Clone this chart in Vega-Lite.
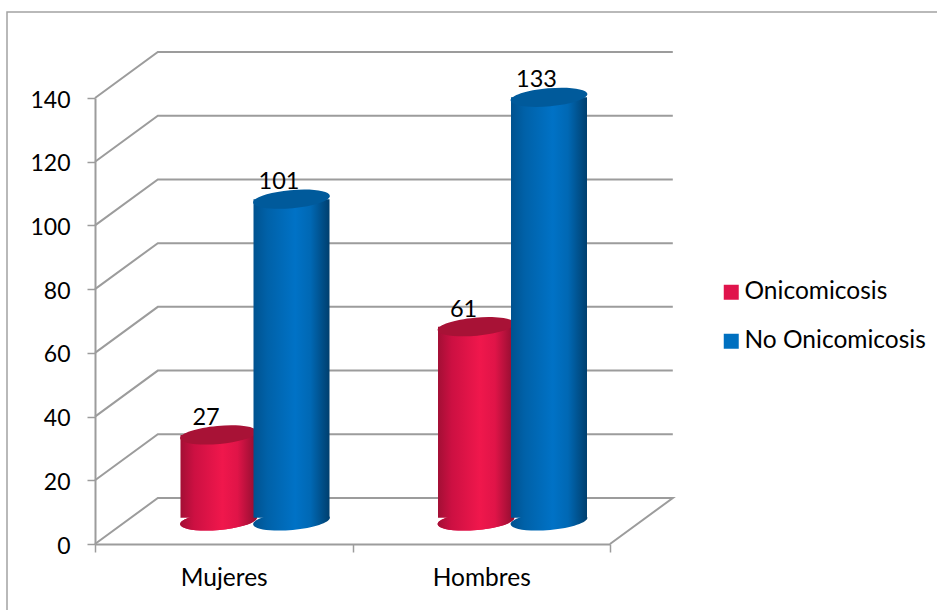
{
  "$schema": "https://vega.github.io/schema/vega-lite/v6.json",
  "width": 940,
  "height": 610,
  "autosize": "none",
  "padding": {"left": 7, "top": 12, "right": 0, "bottom": 0},
  "background": "#ffffff",
  "view": {"stroke": "#a3a3a3", "strokeWidth": 1.5, "fill": "#ffffff"},
  "config": {"font": "Lato", "text": {"font": "Lato"}},
  "datasets": {
    "casos": [
      {"sexo": "Mujeres", "serie": "Onicomicosis", "n": 27},
      {"sexo": "Hombres", "serie": "Onicomicosis", "n": 61},
      {"sexo": "Mujeres", "serie": "No Onicomicosis", "n": 101},
      {"sexo": "Hombres", "serie": "No Onicomicosis", "n": 133}
    ],
    "paredes": [
      {"linea": "piso", "orden": 1, "fondo": 0, "nivel": 0},
      {"linea": "piso", "orden": 2, "fondo": 0.122, "nivel": 14.44},
      {"linea": "piso", "orden": 3, "fondo": 1.122, "nivel": 14.44},
      {"linea": "piso", "orden": 4, "fondo": 1, "nivel": 0},
      {"linea": "g20", "orden": 1, "fondo": 0, "nivel": 20},
      {"linea": "g20", "orden": 2, "fondo": 0.122, "nivel": 34.44},
      {"linea": "g20", "orden": 3, "fondo": 1.122, "nivel": 34.44},
      {"linea": "g40", "orden": 1, "fondo": 0, "nivel": 40},
      {"linea": "g40", "orden": 2, "fondo": 0.122, "nivel": 54.44},
      {"linea": "g40", "orden": 3, "fondo": 1.122, "nivel": 54.44},
      {"linea": "g60", "orden": 1, "fondo": 0, "nivel": 60},
      {"linea": "g60", "orden": 2, "fondo": 0.122, "nivel": 74.44},
      {"linea": "g60", "orden": 3, "fondo": 1.122, "nivel": 74.44},
      {"linea": "g80", "orden": 1, "fondo": 0, "nivel": 80},
      {"linea": "g80", "orden": 2, "fondo": 0.122, "nivel": 94.44},
      {"linea": "g80", "orden": 3, "fondo": 1.122, "nivel": 94.44},
      {"linea": "g100", "orden": 1, "fondo": 0, "nivel": 100},
      {"linea": "g100", "orden": 2, "fondo": 0.122, "nivel": 114.44},
      {"linea": "g100", "orden": 3, "fondo": 1.122, "nivel": 114.44},
      {"linea": "g120", "orden": 1, "fondo": 0, "nivel": 120},
      {"linea": "g120", "orden": 2, "fondo": 0.122, "nivel": 134.44},
      {"linea": "g120", "orden": 3, "fondo": 1.122, "nivel": 134.44},
      {"linea": "g140", "orden": 1, "fondo": 0, "nivel": 140},
      {"linea": "g140", "orden": 2, "fondo": 0.122, "nivel": 154.44},
      {"linea": "g140", "orden": 3, "fondo": 1.122, "nivel": 154.44}
    ]
  },
  "resolve": {"scale": {"x": "independent", "y": "independent"}, "axis": {"x": "independent", "y": "independent"}},
  "layer": [
    {
      "data": {"name": "paredes"},
      "mark": {"type": "line", "color": "#9c9c9c", "strokeWidth": 2, "interpolate": "linear"},
      "encoding": {
        "x": {"field": "fondo", "type": "quantitative", "axis": null, "scale": {"domain": [0, 1.122], "range": [88, 665.8], "nice": false, "zero": false}},
        "y": {
          "field": "nivel", "type": "quantitative",
          "scale": {"domain": [0, 140], "range": [532, 86], "nice": false},
          "axis": {
            "title": null, "orient": "left", "offset": -88, "values": [0, 20, 40, 60, 80, 100, 120, 140],
            "grid": false, "domainColor": "#9c9c9c", "domainWidth": 2, "tickColor": "#9c9c9c", "tickWidth": 1.5, "tickSize": 8,
            "labelFont": "Lato", "labelFontSize": 23, "labelColor": "#000000", "labelPadding": 17, "labelBaseline": "middle", "labelOffset": 2
          }
        },
        "detail": {"field": "linea"},
        "order": {"field": "orden"}
      }
    },
    {
      "data": {"name": "casos"},
      "encoding": {
        "x": {
          "field": "sexo", "type": "nominal",
          "scale": {"domain": ["Mujeres", "Hombres"], "range": [88, 603], "paddingInner": 0, "paddingOuter": 0},
          "axis": {
            "title": null, "orient": "bottom", "offset": -78, "tickBand": "extent", "labelAngle": 0, "grid": false,
            "domainColor": "#9c9c9c", "domainWidth": 2, "tickColor": "#9c9c9c", "tickWidth": 1.5, "tickSize": 8,
            "labelFont": "Lato", "labelFontSize": 24.5, "labelColor": "#000000", "labelPadding": 14
          }
        },
        "xOffset": {"field": "serie", "type": "nominal", "scale": {"domain": ["Onicomicosis", "No Onicomicosis"], "range": [87, 233]}},
        "y": {"field": "n", "type": "quantitative", "axis": null, "scale": {"domain": [0, 140], "range": [509, 63], "nice": false}}
      },
      "layer": [
        {
          "transform": [{"filter": "datum.serie === 'Onicomicosis'"}],
          "layer": [
            {
              "mark": {"type": "point", "filled": true, "opacity": 1, "size": 5929, "shape": "M-0.996,0.09A1,0.235,-5,1,0,0.996,-0.09A1,0.235,-5,1,0,-0.996,0.09Z"},
              "encoding": {
                "y": {"datum": 0, "type": "quantitative"},
                "color": {
                  "field": "serie", "type": "nominal",
                  "scale": {"domain": ["Onicomicosis", "No Onicomicosis"], "range": ["#e0144c", "#0070c0"]},
                  "legend": {
                    "title": null, "orient": "none", "legendX": 712, "legendY": 268, "symbolType": "square", "symbolSize": 225,
                    "labelFont": "Lato", "labelFontSize": 24.5, "labelColor": "#000000", "labelOffset": 1, "labelLimit": 300, "rowPadding": 24, "symbolStrokeWidth": 0
                  }
                }
              }
            },
            {
              "mark": {"type": "point", "filled": true, "opacity": 1, "size": 5929, "shape": "M-0.996,0.09A1,0.235,-5,1,0,0.996,-0.09A1,0.235,-5,1,0,-0.996,0.09Z",
                "fill": {"gradient": "linear", "x1": 0, "x2": 1, "y1": 0, "y2": 0, "stops": [
                  {"offset": 0, "color": "#a30f35"}, {"offset": 0.18, "color": "#cc1042"}, {"offset": 0.55, "color": "#f0174c"}, {"offset": 0.75, "color": "#e01448"}, {"offset": 1, "color": "#8f0e30"}]}},
              "encoding": {"y": {"datum": 0, "type": "quantitative"}}
            },
            {
              "mark": {"type": "bar", "width": 76, "stroke": null, "color": {"gradient": "linear", "x1": 0, "x2": 1, "y1": 0, "y2": 0, "stops": [
                  {"offset": 0, "color": "#a30f35"}, {"offset": 0.18, "color": "#cc1042"}, {"offset": 0.55, "color": "#f0174c"}, {"offset": 0.75, "color": "#e01448"}, {"offset": 1, "color": "#8f0e30"}]}},
              "encoding": {"y2": {"datum": 1}}
            },
            {
              "mark": {"type": "point", "filled": true, "opacity": 1, "size": 5929, "color": "#a81236", "shape": "M-0.996,0.09A1,0.235,-5,1,0,0.996,-0.09A1,0.235,-5,1,0,-0.996,0.09Z"}
            }
          ]
        },
        {
          "transform": [{"filter": "datum.serie === 'No Onicomicosis'"}],
          "layer": [
            {
              "mark": {"type": "point", "filled": true, "opacity": 1, "size": 5929, "shape": "M-0.996,0.09A1,0.235,-5,1,0,0.996,-0.09A1,0.235,-5,1,0,-0.996,0.09Z",
                "fill": {"gradient": "linear", "x1": 0, "x2": 1, "y1": 0, "y2": 0, "stops": [
                  {"offset": 0, "color": "#00528f"}, {"offset": 0.18, "color": "#0061a8"}, {"offset": 0.55, "color": "#0072c6"}, {"offset": 0.75, "color": "#0068b4"}, {"offset": 1, "color": "#003f6e"}]}},
              "encoding": {"y": {"datum": 0, "type": "quantitative"}}
            },
            {
              "mark": {"type": "bar", "width": 76, "stroke": null, "color": {"gradient": "linear", "x1": 0, "x2": 1, "y1": 0, "y2": 0, "stops": [
                  {"offset": 0, "color": "#00528f"}, {"offset": 0.18, "color": "#0061a8"}, {"offset": 0.55, "color": "#0072c6"}, {"offset": 0.75, "color": "#0068b4"}, {"offset": 1, "color": "#003f6e"}]}},
              "encoding": {"y2": {"datum": 1}}
            },
            {
              "mark": {"type": "point", "filled": true, "opacity": 1, "size": 5929, "color": "#005a9b", "shape": "M-0.996,0.09A1,0.235,-5,1,0,0.996,-0.09A1,0.235,-5,1,0,-0.996,0.09Z"}
            }
          ]
        },
        {
          "mark": {"type": "text", "font": "Lato", "fontSize": 23.5, "color": "#000000", "dx": -12.5, "dy": -17, "baseline": "middle", "align": "center"},
          "encoding": {"text": {"field": "n", "type": "quantitative"}}
        }
      ]
    }
  ]
}
